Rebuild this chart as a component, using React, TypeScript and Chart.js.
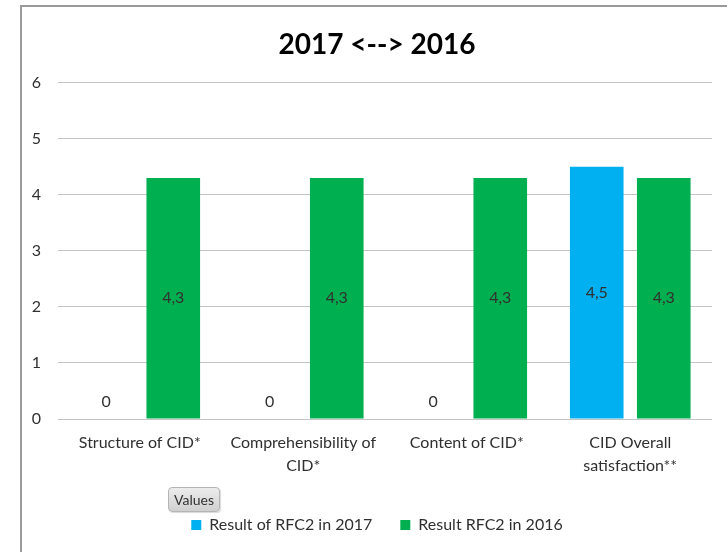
import React, { useEffect, useRef } from "react";
import { Chart, registerables } from "chart.js";

Chart.register(...registerables);

const categories: string[][] = [
  ["Structure of CID*"],
  ["Comprehensibility of", "CID*"],
  ["Content of CID*"],
  ["CID Overall", "satisfaction**"],
];
const series2017: number[] = [0, 0, 0, 4.5];
const series2016: number[] = [4.3, 4.3, 4.3, 4.3];
const seriesNames: string[] = ["Result of RFC2 in 2017", "Result RFC2 in 2016"];
const yTicks: number[] = [0, 1, 2, 3, 4, 5, 6];
const titleText = "2017 <--> 2016";
const FONT = "Lato, 'Liberation Sans', Arial, sans-serif";
const TEXT = "#303030";

const labelPlugin = {
  id: "barLabels",
  afterLayout(chart: any) {
    // let y tick labels extend into the left padding without being clipped
    chart.scales.y.left = 0;
  },
  afterDatasetsDraw(chart: any) {
    const ctx = chart.ctx;
    ctx.save();
    ctx.font = `16px ${FONT}`;
    ctx.fillStyle = TEXT;
    ctx.textAlign = "center";
    ctx.textBaseline = "middle";
    chart.data.datasets.forEach((ds: any, di: number) => {
      const meta = chart.getDatasetMeta(di);
      meta.data.forEach((el: any, i: number) => {
        const v = ds.data[i] as number;
        const txt = String(v).replace(".", ",");
        const y = v === 0 ? el.base - 17 : (el.y + el.base) / 2;
        ctx.fillText(txt, el.x, y);
      });
    });
    ctx.restore();
  },
};

export default function App() {
  const ref = useRef<HTMLCanvasElement>(null);
  useEffect(() => {
    if (!ref.current) return;
    const chart = new Chart(ref.current, {
      type: "bar",
      data: {
        labels: categories,
        datasets: [
          { label: seriesNames[0], data: series2017, backgroundColor: "#00B0F0" },
          { label: seriesNames[1], data: series2016, backgroundColor: "#00B050" },
        ],
      },
      plugins: [labelPlugin],
      options: {
        animation: false,
        responsive: false,
        maintainAspectRatio: false,
        layout: { padding: { left: 20, right: 15, top: 0, bottom: 9 } },
        datasets: { bar: { barPercentage: 0.8, categoryPercentage: 0.82 } },
        plugins: {
          title: {
            display: true,
            text: titleText,
            color: "#000",
            font: { family: FONT, size: 28, weight: "bold", lineHeight: 1.2 },
            padding: { top: 21, bottom: 21 },
          },
          legend: {
            position: "bottom",
            labels: {
              boxWidth: 10,
              boxHeight: 10,
              color: TEXT,
              font: { family: FONT, size: 16 },
              padding: 28,
            },
          },
          tooltip: { enabled: false },
        },
        scales: {
          x: {
            grid: { display: false, drawTicks: false },
            border: { display: false },
            ticks: {
              color: TEXT,
              font: { family: FONT, size: 16, lineHeight: 1.4 },
              padding: 13,
              maxRotation: 0,
              autoSkip: false,
            },
            afterFit(scale: any) {
              scale.height = 70;
            },
          },
          y: {
            min: yTicks[0],
            max: yTicks[yTicks.length - 1],
            grid: { color: "#c4c4c4", lineWidth: 1, drawTicks: false },
            border: { display: false },
            ticks: {
              stepSize: 1,
              color: TEXT,
              font: { family: FONT, size: 16 },
              padding: 17,
            },
            afterFit(scale: any) {
              scale.width = 16;
            },
          },
        },
      },
    });
    return () => chart.destroy();
  }, []);

  return (
    <div style={{ position: "fixed", left: 0, top: 0, width: 727, height: 552, background: "#fff", overflow: "hidden" }}>
      <div
        style={{
          position: "absolute",
          left: 20,
          top: 5,
          width: 740,
          height: 560,
          border: "2px solid #9a9a9a",
          boxSizing: "border-box",
        }}
      />
      <canvas ref={ref} width={705} height={545} style={{ position: "absolute", left: 22, top: 7 }} />
      <div
        style={{
          position: "absolute",
          left: 168,
          top: 487,
          width: 52,
          height: 25,
          borderRadius: 4,
          border: "1px solid #b5b5b5",
          boxSizing: "border-box",
          background: "linear-gradient(#ececec, #d0d0d0)",
          boxShadow: "1px 1px 1px rgba(0,0,0,0.15)",
          fontFamily: FONT,
          fontSize: 14,
          color: "#303030",
          display: "flex",
          alignItems: "center",
          justifyContent: "center",
        }}
      >
        Values
      </div>
    </div>
  );
}
